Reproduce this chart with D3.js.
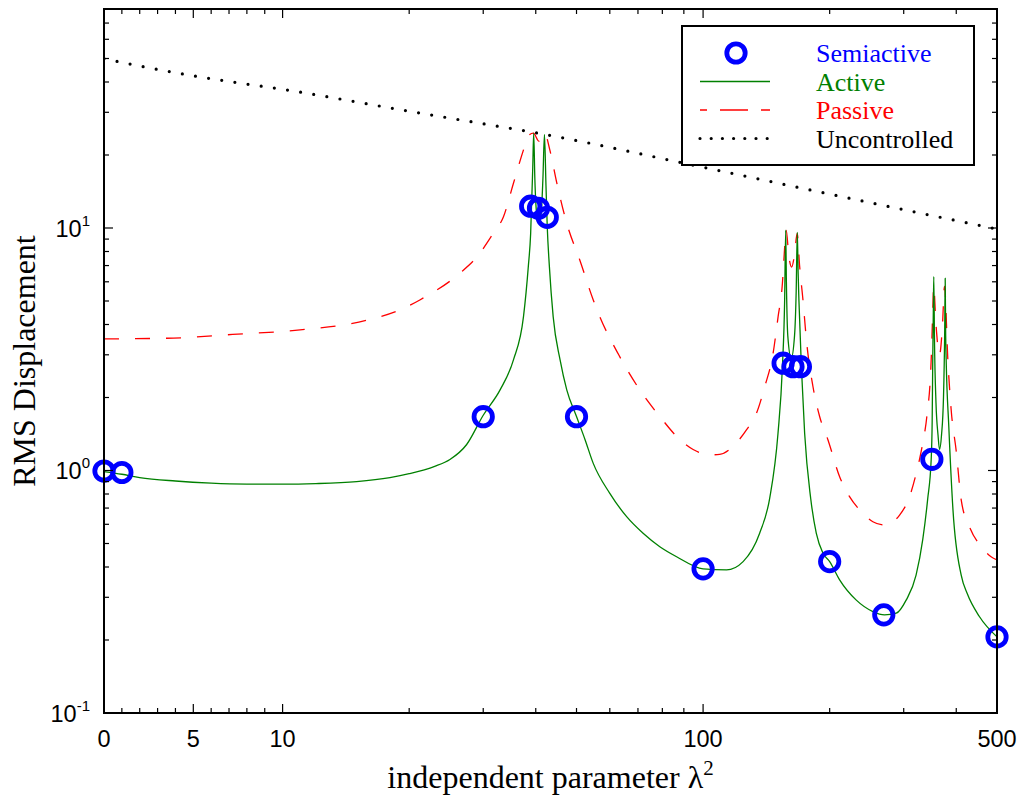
<!DOCTYPE html>
<html>
<head>
<meta charset="utf-8">
<script src="https://cdn.jsdelivr.net/npm/d3@7"></script>
<style>
  body { margin: 0; background: #fff; }
  svg { display: block; }
</style>
</head>
<body>
<svg id="chart"></svg>
<script>
// values, x is lambda^2
const semiX = [0, 1, 30, 38.9, 40.6, 42.6, 50, 100, 155, 163.6, 170.4, 200, 269, 350, 500]
const semiY = [0.995, 0.981, 1.667, 12.3, 12.06, 11.07, 1.667, 0.393, 2.77, 2.68, 2.68, 0.421, 0.254, 1.112, 0.206]

const activeX = [0, 1, 2, 4, 6, 8, 10, 12, 15, 18, 20, 23, 25, 27.4, 30, 32.9, 35.4, 37.4, 38.4, 38.9, 39.35, 39.55,
    39.8, 40.2, 40.7, 41.2, 41.6, 41.95, 42.3, 42.6, 43.1, 44, 45.7, 47.4, 50, 52.4, 54.8, 60, 65.8, 72, 78.9, 86.5,
    100, 113.7, 124.5, 136.3, 144, 150.7, 154.4, 156.3, 157.2, 157.8, 159, 162, 165, 166.5, 167.5, 168.3, 169, 171.3,
    174.4, 180.3, 185.9, 192.8, 200, 211.2, 231.4, 253.4, 270, 288, 304, 321, 333, 342, 348.7, 350.6, 351.8, 352.8,
    353.7, 355, 358, 362, 365, 369, 373, 375.5, 376.5, 377.5, 378.5, 384, 392.9, 411, 425, 454, 500]
const activeY = [0.99, 0.965, 0.935, 0.905, 0.887, 0.879, 0.878, 0.883, 0.9, 0.935, 0.97, 1.04, 1.11, 1.28, 1.69, 2.15,
    2.86, 4.31, 6.93, 9.51, 17.9, 24.6, 16, 11.5, 10.8, 11.5, 16, 24.3, 15, 10.1, 6.93, 4.31, 2.86, 2.15, 1.67, 1.34,
    1.07, 0.805, 0.645, 0.551, 0.485, 0.441, 0.393, 0.389, 0.421, 0.551, 0.768, 1.42, 2.68, 5.05, 9.8, 6, 3.6, 2.9,
    3.6, 5.5, 9.6, 6.5, 5.05, 2.68, 1.42, 0.765, 0.551, 0.456, 0.421, 0.354, 0.292, 0.262, 0.254, 0.258, 0.292, 0.37,
    0.52, 0.76, 1.11, 1.6, 3.0, 4.5, 6.3, 3.5, 1.9, 1.4, 1.22, 1.4, 2.0, 3.8, 6.2, 3.6, 2.86, 1.52, 0.688, 0.37, 0.31,
    0.25, 0.206]

const passiveX = [0, 3.5, 7.2, 11, 15.9, 19, 21.2, 26.4, 29, 31.7, 33.5, 35.4, 37.4, 38.4, 39.5, 40.7, 42, 43.2, 44.9,
    47.4, 50.9, 54.8, 56.8, 63, 70.7, 78.9, 88.1, 94.7, 103.7, 109.5, 120, 126.8, 133.9, 140.2, 146.7, 150.8, 154.4,
    155.8, 157.6, 160, 162.4, 165, 167.4, 169.7, 172.8, 176.1, 182.5, 189.3, 198.1, 211.2, 223, 235.6, 253.4, 270,
    293.3, 309.7, 321.3, 333, 340.5, 348.7, 351.8, 353.5, 358, 364.9, 371, 375.1, 382, 389, 400, 411, 430, 458.5, 484, 500]
const passiveY = [3.49, 3.51, 3.64, 3.8, 4.17, 4.59, 5.05, 6.51, 7.61, 9.51, 11.1, 15.3, 21, 24, 24.6, 22.8, 24.6, 21,
    15.3, 10.45, 7.38, 5.05, 4.31, 3.0, 2.15, 1.67, 1.34, 1.22, 1.16, 1.165, 1.3, 1.47, 1.72, 2.22, 3.04, 4.31, 5.92,
    7.61, 9.8, 7.6, 6.9, 7.8, 9.5, 6.93, 5.05, 3.45, 2.22, 1.67, 1.34, 0.943, 0.78, 0.688, 0.615, 0.596, 0.655, 0.78,
    0.974, 1.3, 1.67, 2.86, 4.59, 5.75, 4.0, 3.0, 4.0, 5.75, 2.86, 1.78, 1.2, 0.756, 0.586, 0.485, 0.441, 0.428]

const uncX = [0, 2.5, 5, 7.5, 10, 20, 30, 40.5, 100, 200, 300, 500]
const uncY = [49.9, 45.8, 42.4, 39.7, 37.3, 30.3, 26.9, 24.6, 17.8, 13.8, 11.9, 9.9]

const xTickVals = [0, 5, 10, 100, 500]
const xMinorVals = [1, 2, 3, 4, 6, 7, 8, 9, 20, 30, 40, 50, 60, 70, 80, 90, 200, 300, 400]
const yTickVals = [0.1, 1, 10]
const yTickExp = ['-1', '0', '1']
const yMinorVals = [0.2, 0.3, 0.4, 0.5, 0.6, 0.7, 0.8, 0.9, 2, 3, 4, 5, 6, 7, 8, 9, 20, 30, 40, 50, 60, 70]

const legendNames = ['Semiactive', 'Active', 'Passive', 'Uncontrolled']
const legendColors = ['#0000ff', '#008000', '#ff0000', '#000000']

const W = 1031
const H = 796
const plot = {left: 104, right: 997, top: 9, bottom: 713}
const serif = '"Liberation Serif", "Times New Roman", serif'
const sans = '"Liberation Sans", Arial, Helvetica, sans-serif'

// linear from 0 to 10, then logarithmic up to 500
const splitX = plot.left + 0.2 * (plot.right - plot.left)
const xLin = d3.scaleLinear().domain([0, 10]).range([plot.left, splitX])
const xLog = d3.scaleLog().domain([10, 500]).range([splitX, plot.right])
const x = v => v <= 10 ? xLin(v) : xLog(v)
const y = d3.scaleLog().domain([0.1, 80]).range([plot.bottom, plot.top])

const svg = d3.select('#chart')
    .attr('width', W)
    .attr('height', H)

svg.append('rect').attr('width', W).attr('height', H).attr('fill', '#fff')

svg.append('clipPath')
    .attr('id', 'clip')
    .append('rect')
    .attr('x', plot.left)
    .attr('y', plot.top)
    .attr('width', plot.right - plot.left)
    .attr('height', plot.bottom - plot.top)

const line = d3.line()
    .x(d => x(d[0]))
    .y(d => y(d[1]))
    .curve(d3.curveMonotoneX)

const curves = svg.append('g').attr('clip-path', 'url(#clip)')

curves.append('path')
    .attr('d', line(d3.zip(uncX, uncY)))
    .attr('fill', 'none')
    .attr('stroke', '#000')
    .attr('stroke-width', 3.2)
    .attr('stroke-linecap', 'round')
    .attr('stroke-dasharray', '0 13.3')

curves.append('path')
    .attr('d', line(d3.zip(passiveX, passiveY)))
    .attr('fill', 'none')
    .attr('stroke', '#ff0000')
    .attr('stroke-width', 1.3)
    .attr('stroke-dasharray', '15 16')

curves.append('path')
    .attr('d', line(d3.zip(activeX, activeY)))
    .attr('fill', 'none')
    .attr('stroke', '#008000')
    .attr('stroke-width', 1.3)

svg.append('g')
    .selectAll('circle')
    .data(d3.zip(semiX, semiY))
    .enter()
    .append('circle')
    .attr('cx', d => x(d[0]))
    .attr('cy', d => y(d[1]))
    .attr('r', 9.2)
    .attr('fill', 'none')
    .attr('stroke', '#0000ff')
    .attr('stroke-width', 4.8)

// frame and inward ticks on all sides
const axes = svg.append('g').attr('stroke', '#000')

const tickX = (v, len) => {
    axes.append('line').attr('x1', x(v)).attr('x2', x(v))
        .attr('y1', plot.bottom).attr('y2', plot.bottom - len).attr('stroke-width', 1.2)
    axes.append('line').attr('x1', x(v)).attr('x2', x(v))
        .attr('y1', plot.top).attr('y2', plot.top + len).attr('stroke-width', 1.2)
}
const tickY = (v, len) => {
    axes.append('line').attr('y1', y(v)).attr('y2', y(v))
        .attr('x1', plot.left).attr('x2', plot.left + len).attr('stroke-width', 1.2)
    axes.append('line').attr('y1', y(v)).attr('y2', y(v))
        .attr('x1', plot.right).attr('x2', plot.right - len).attr('stroke-width', 1.2)
}
xTickVals.forEach(v => tickX(v, 9))
xMinorVals.forEach(v => tickX(v, 5))
yTickVals.forEach(v => tickY(v, 9))
yMinorVals.forEach(v => tickY(v, 5))

axes.append('rect')
    .attr('x', plot.left)
    .attr('y', plot.top)
    .attr('width', plot.right - plot.left)
    .attr('height', plot.bottom - plot.top)
    .attr('fill', 'none')
    .attr('stroke-width', 2)

svg.append('g')
    .selectAll('text')
    .data(xTickVals)
    .enter()
    .append('text')
    .attr('x', d => x(d))
    .attr('y', 747)
    .attr('text-anchor', 'middle')
    .attr('font-family', sans)
    .attr('font-size', 23.5)
    .text(d => d)

const yLabels = svg.append('g')
    .selectAll('text')
    .data(yTickVals)
    .enter()
    .append('text')
    .attr('x', 90)
    .attr('y', d => y(d) + 9)
    .attr('text-anchor', 'end')
    .attr('font-family', sans)
    .attr('font-size', 23.5)
yLabels.append('tspan').text('10')
yLabels.append('tspan')
    .attr('dy', -11)
    .attr('font-size', 15)
    .text((d, i) => yTickExp[i])

const xTitle = svg.append('text')
    .attr('x', (plot.left + plot.right) / 2)
    .attr('y', 788)
    .attr('text-anchor', 'middle')
    .attr('font-family', serif)
    .attr('font-size', 32)
xTitle.append('tspan').text('independent parameter \u03bb')
xTitle.append('tspan').attr('dy', -13).attr('font-size', 21).text('2')

svg.append('text')
    .attr('transform', `translate(35, ${(plot.top + plot.bottom) / 2}) rotate(-90)`)
    .attr('text-anchor', 'middle')
    .attr('font-family', serif)
    .attr('font-size', 32)
    .text('RMS Displacement')

// legend
const legend = svg.append('g')
legend.append('rect')
    .attr('x', 682)
    .attr('y', 26)
    .attr('width', 292)
    .attr('height', 139)
    .attr('fill', '#fff')
    .attr('stroke', '#000')
    .attr('stroke-width', 2)

const rowY = i => 53 + i * 28.5

legend.append('circle')
    .attr('cx', 736).attr('cy', rowY(0)).attr('r', 9.2)
    .attr('fill', 'none').attr('stroke', legendColors[0]).attr('stroke-width', 4.8)
legend.append('line')
    .attr('x1', 700).attr('x2', 770).attr('y1', rowY(1)).attr('y2', rowY(1))
    .attr('stroke', legendColors[1]).attr('stroke-width', 1.3)
legend.append('line')
    .attr('x1', 700).attr('x2', 770).attr('y1', rowY(2)).attr('y2', rowY(2))
    .attr('stroke', legendColors[2]).attr('stroke-width', 1.3)
    .attr('stroke-dasharray', '7 13 28 13 9')
legend.append('line')
    .attr('x1', 700).attr('x2', 770).attr('y1', rowY(3)).attr('y2', rowY(3))
    .attr('stroke', legendColors[3]).attr('stroke-width', 3.2)
    .attr('stroke-linecap', 'round').attr('stroke-dasharray', '0 11.2')

legend.selectAll('text.leg')
    .data(legendNames)
    .enter()
    .append('text')
    .attr('class', 'leg')
    .attr('x', 816)
    .attr('y', (d, i) => rowY(i) + 9)
    .attr('font-family', serif)
    .attr('font-size', 26)
    .attr('fill', (d, i) => legendColors[i])
    .text(d => d)
</script>
</body>
</html>
